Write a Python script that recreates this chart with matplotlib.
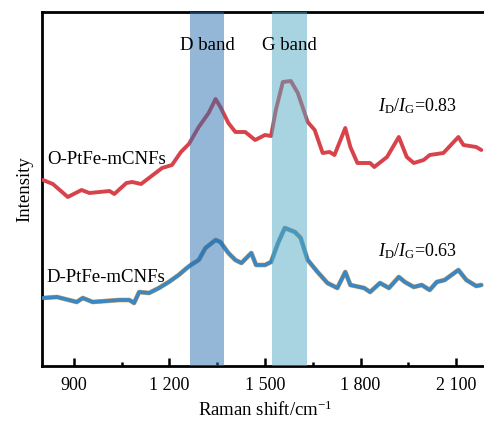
import matplotlib
matplotlib.use("Agg")
import matplotlib.pyplot as plt
from matplotlib.ticker import MultipleLocator, FuncFormatter

plt.rcParams["font.family"] = ["Liberation Serif", "DejaVu Serif"]
plt.rcParams["mathtext.fontset"] = "custom"
plt.rcParams["mathtext.rm"] = "Liberation Serif"
plt.rcParams["mathtext.it"] = "Liberation Serif:italic"

# Raman spectra (arbitrary intensity units)
o_shift = [803, 834, 881, 924, 949, 1012, 1027, 1065, 1083, 1111, 1177, 1208,
           1236, 1261, 1292, 1323, 1345, 1360, 1385, 1407, 1438, 1469, 1500,
           1519, 1534, 1556, 1581, 1603, 1634, 1656, 1681, 1703, 1718, 1737,
           1752, 1768, 1790, 1830, 1843, 1883, 1920, 1945, 1967, 1998, 2017,
           2060, 2107, 2123, 2163, 2179]
o_int = [186, 182, 169, 176, 173, 175, 172, 183, 184, 182, 198, 201, 214, 222,
         239, 253, 267, 259, 243, 234, 234, 226, 231, 230, 256, 284, 285, 273,
         244, 236, 213, 214, 211, 226, 238, 219, 203, 203, 199, 209, 229, 209,
         203, 206, 211, 213, 229, 221, 219, 216]

d_shift = [803, 847, 909, 928, 959, 1043, 1074, 1089, 1105, 1136, 1167, 1198,
           1229, 1251, 1267, 1292, 1313, 1345, 1360, 1385, 1407, 1426, 1457,
           1472, 1500, 1519, 1541, 1562, 1594, 1612, 1634, 1665, 1696, 1727,
           1752, 1768, 1811, 1830, 1861, 1889, 1920, 1939, 1967, 1992, 2017,
           2039, 2064, 2107, 2132, 2163, 2179]
d_int = [68, 69, 64, 68, 64, 66, 66, 63, 74, 73, 78, 84, 91, 97, 101, 106, 118,
         126, 124, 113, 106, 103, 113, 101, 101, 104, 123, 138, 134, 128, 106,
         94, 83, 78, 94, 81, 78, 74, 83, 78, 89, 84, 79, 81, 76, 84, 86, 96, 86,
         80, 81]

d_band = (1265, 1372)
g_band = (1522, 1631)
ratio_o = 0.83
ratio_d = 0.63
x_ticks = [900, 1200, 1500, 1800, 2100]

fig = plt.figure(figsize=(4.85, 4.22), dpi=100)
ax = fig.add_axes([42 / 485, 1 - 366 / 422, 446 / 485, 354 / 422])

ax.plot(d_shift, d_int, color="#d9a86a", lw=3.4, zorder=2, solid_capstyle="round")
ax.plot(d_shift, d_int, color="#3a87c2", lw=2.7, zorder=3, solid_capstyle="round")
ax.plot(o_shift, o_int, color="#d8434b", lw=2.8, zorder=3, solid_capstyle="round")

ax.axvspan(*d_band, color="#2a6fb0", alpha=0.5, lw=0, zorder=4)
ax.axvspan(*g_band, color="#50aac3", alpha=0.5, lw=0, zorder=4)

ax.set_xlim(800, 2200)
ax.set_ylim(0, 354)
ax.xaxis.set_minor_locator(MultipleLocator(150))
ax.set_xticks(x_ticks)
ax.xaxis.set_major_formatter(FuncFormatter(
    lambda v, p: f"{int(v):,}".replace(",", " ")))
ax.set_yticks([])
ax.tick_params(axis="x", which="major", direction="in", length=6, width=1.8,
               labelsize=13, pad=8)
ax.tick_params(axis="x", which="minor", direction="in", length=3, width=1.8)
for s in ax.spines.values():
    s.set_linewidth(2)

ax.set_xlabel("Raman shift/cm$^{-1}$", fontsize=13.5, labelpad=5)
ax.set_ylabel("Intensity", fontsize=13.5, labelpad=6)

ax.text(sum(d_band) / 2, 320, "D band", ha="center", va="center", fontsize=13.5, zorder=5)
ax.text(sum(g_band) / 2, 320, "G band", ha="center", va="center", fontsize=13.5, zorder=5)
ax.text(815, 206, "O-PtFe-mCNFs", ha="left", va="center", fontsize=13.5)
ax.text(815, 89, "D-PtFe-mCNFs", ha="left", va="center", fontsize=13.5)
ax.text(1980, 260, f"$I_{{\\mathrm{{D}}}}/I_{{\\mathrm{{G}}}}$={ratio_o:.2f}",
        ha="center", va="center", fontsize=13)
ax.text(1980, 115, f"$I_{{\\mathrm{{D}}}}/I_{{\\mathrm{{G}}}}$={ratio_d:.2f}",
        ha="center", va="center", fontsize=13)

fig.savefig("out.png", dpi=100)
